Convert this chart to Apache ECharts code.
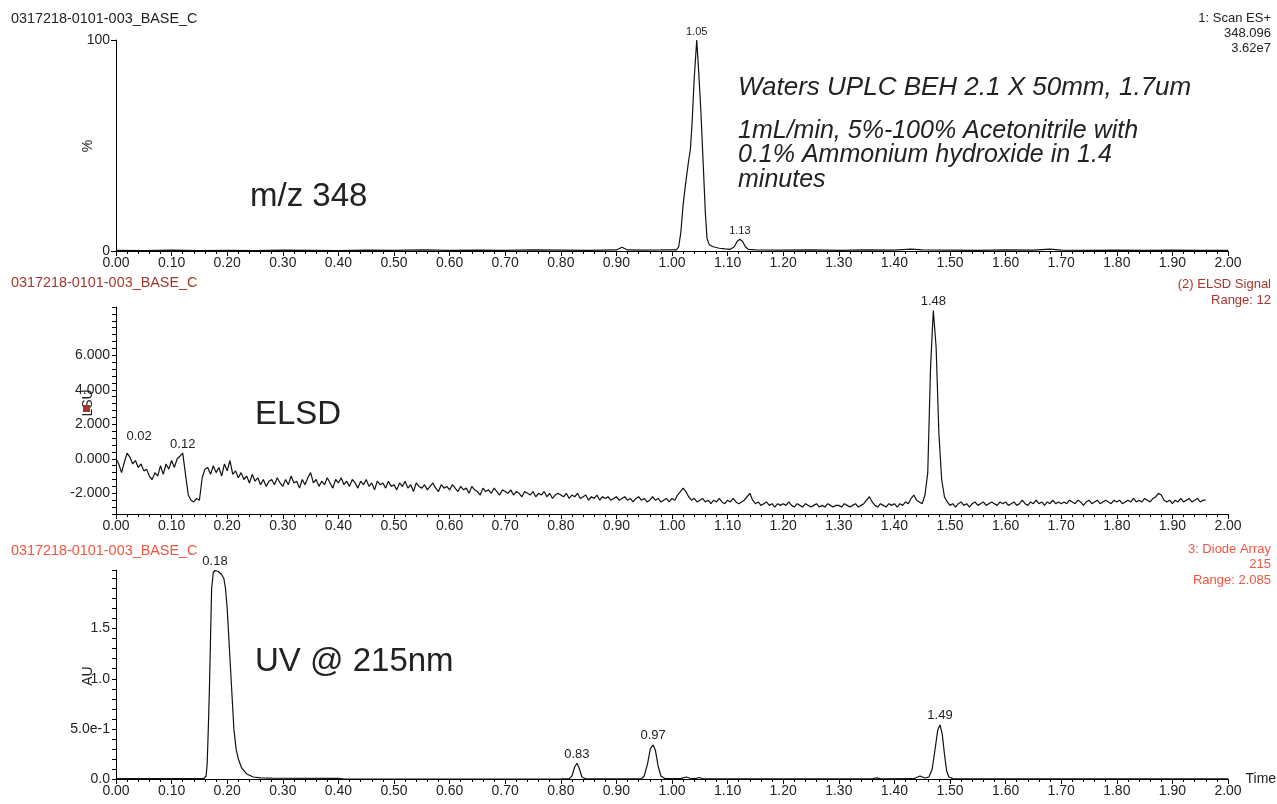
<!DOCTYPE html>
<html>
<head>
<meta charset="utf-8">
<title>UPLC chromatogram</title>
<script src="https://cdn.jsdelivr.net/npm/echarts@6.0.0/dist/echarts.min.js"></script>
<style>
  html, body { margin: 0; padding: 0; background: #fff; }
  #chart { width: 1277px; height: 804px; }
</style>
</head>
<body>
<div id="chart"></div>
<script>
// MS trace (m/z 348), [time min, %]
const msTrace = [
  [0, 0.3], [0.05, 0.2], [0.1, 0.4], [0.15, 0.2], [0.2, 0.3], [0.25, 0.2], [0.3, 0.4], [0.35, 0.3],
  [0.4, 0.2], [0.45, 0.4], [0.5, 0.3], [0.55, 0.5], [0.6, 0.3], [0.65, 0.4], [0.7, 0.3], [0.75, 0.5],
  [0.8, 0.4], [0.85, 0.3], [0.9, 0.5], [0.91, 1.8], [0.92, 0.5], [0.95, 0.4], [0.98, 0.5], [1.0, 0.6],
  [1.008, 0.5], [1.012, 2], [1.016, 9], [1.02, 22], [1.025, 33], [1.03, 43], [1.033, 48], [1.036, 60],
  [1.04, 82], [1.0445, 100], [1.048, 85], [1.052, 66], [1.056, 42], [1.06, 18], [1.063, 6], [1.067, 3],
  [1.074, 2], [1.085, 1.3], [1.095, 1], [1.105, 0.8], [1.112, 2], [1.117, 4.5], [1.122, 5.6], [1.127, 4.5],
  [1.132, 2], [1.137, 0.8], [1.15, 0.5], [1.2, 0.4], [1.25, 0.5], [1.3, 0.3], [1.35, 0.5], [1.4, 0.4],
  [1.43, 0.9], [1.45, 0.5], [1.5, 0.4], [1.55, 0.3], [1.6, 0.5], [1.65, 0.4], [1.68, 0.9], [1.7, 0.4],
  [1.75, 0.3], [1.8, 0.4], [1.85, 0.3], [1.9, 0.4], [1.95, 0.3], [2.0, 0.3]
]
const msPeaks = [[1.0445, 100, '1.05'], [1.122, 5.6, '1.13']]

// ELSD signal, sampled every 0.005 min from 0, in thousands
const elsdStart = 0
const elsdStep = 0.005
const elsdSignal = [
  0.0, -0.3, -0.8, -0.2, 0.33, 0.1, -0.3, -0.1, -0.5, -0.3, -0.7, -0.6, -1.0, -1.2, -0.8, -1.0, -0.4, -0.9, -0.3, -0.6,
  -0.1, -0.5, 0.0, 0.15, 0.33, -0.9, -2.1, -2.4, -2.5, -2.3, -2.4, -1.1, -0.6, -0.5, -0.9, -0.4, -0.8, -0.5, -1.0, -0.3,
  -0.7, -0.1, -0.9, -0.7, -1.1, -0.8, -1.2, -1.0, -1.4, -0.9, -1.3, -1.1, -1.5, -1.2, -1.6, -1.3, -1.2, -1.5, -1.1, -1.4,
  -1.6, -1.2, -1.5, -1.0, -1.4, -1.3, -1.7, -1.2, -1.5, -1.1, -0.8, -1.4, -1.2, -1.6, -1.3, -1.5, -1.1, -1.4, -1.7, -1.2,
  -1.4, -1.1, -1.5, -1.3, -1.6, -1.2, -1.4, -1.7, -1.3, -1.5, -1.2, -1.6, -1.4, -1.8, -1.3, -1.5, -1.4, -1.7, -1.3, -1.6,
  -1.5, -1.8, -1.4, -1.6, -1.3, -1.7, -1.5, -1.9, -1.4, -1.6, -1.7, -1.5, -1.8, -1.6, -1.4, -1.7, -1.9, -1.5, -1.7, -1.6,
  -1.8, -1.5, -1.7, -1.9, -1.6, -1.8, -1.7, -2.0, -1.6, -1.8, -1.9, -2.1, -1.7, -1.9, -1.8, -2.0, -1.7, -1.9, -2.1, -1.8,
  -1.9, -2.0, -1.8, -2.1, -1.9, -2.0, -2.2, -1.9, -2.0, -2.1, -1.9, -2.2, -2.0, -2.1, -1.9, -2.2, -2.0, -2.3, -2.1, -2.0,
  -2.1, -2.2, -2.0, -2.3, -2.1, -2.2, -2.0, -2.3, -2.2, -2.1, -2.4, -2.2, -2.3, -2.1, -2.4, -2.2, -2.3, -2.2, -2.4, -2.3,
  -2.2, -2.4, -2.3, -2.2, -2.4, -2.3, -2.5, -2.3, -2.2, -2.4, -2.3, -2.5, -2.4, -2.2, -2.4, -2.3, -2.5, -2.4, -2.3, -2.5,
  -2.3, -2.4, -2.1, -1.9, -1.7, -1.9, -2.2, -2.4, -2.3, -2.5, -2.4, -2.3, -2.5, -2.4, -2.6, -2.4, -2.5, -2.3, -2.5, -2.6,
  -2.4, -2.5, -2.3, -2.5, -2.6, -2.5, -2.4, -2.2, -2.0, -2.4, -2.6, -2.5, -2.7, -2.6, -2.5, -2.7, -2.6, -2.8, -2.6, -2.7,
  -2.6, -2.7, -2.5, -2.7, -2.8, -2.6, -2.7, -2.8, -2.6, -2.7, -2.8, -2.7, -2.6, -2.8, -2.7, -2.8, -2.6, -2.7, -2.8, -2.7,
  -2.7, -2.8, -2.6, -2.7, -2.8, -2.7, -2.6, -2.8, -2.7, -2.6, -2.4, -2.2, -2.5, -2.7, -2.8, -2.6, -2.7, -2.8, -2.6, -2.7,
  -2.6, -2.8, -2.6, -2.7, -2.5, -2.6, -2.3, -2.1, -2.4, -2.5, -2.6, -2.1, -0.8, 5.3, 8.6, 6.5, 1.5, -1.2, -2.2, -2.5,
  -2.7, -2.6, -2.8, -2.6, -2.5, -2.7, -2.6, -2.8, -2.6, -2.5, -2.7, -2.6, -2.5, -2.7, -2.6, -2.5, -2.6, -2.7, -2.5, -2.6,
  -2.5, -2.7, -2.6, -2.5, -2.7, -2.6, -2.4, -2.6, -2.7, -2.5, -2.6, -2.4, -2.6, -2.5, -2.7, -2.5, -2.6, -2.4, -2.6, -2.5,
  -2.6, -2.5, -2.6, -2.4, -2.5, -2.6, -2.4, -2.5, -2.7, -2.5, -2.4, -2.6, -2.5, -2.4, -2.6, -2.5, -2.4, -2.5, -2.6, -2.4,
  -2.5, -2.4, -2.6, -2.5, -2.4, -2.5, -2.3, -2.5, -2.4, -2.5, -2.3, -2.4, -2.5, -2.3, -2.2, -2.0, -2.1, -2.4, -2.5, -2.4,
  -2.6, -2.4, -2.5, -2.3, -2.5, -2.4, -2.3, -2.5, -2.4, -2.3, -2.5, -2.4, -2.4
]
const elsdPeaks = [[0.02, 0.33, '0.02'], [0.12, 0.33, '0.12'], [1.47, 8.6, '1.48']]
const elsdLabelValues = [-2, 0, 2, 4, 6]

// UV 215 nm trace, [time min, AU]
const uvTrace = [
  [0, 0.004], [0.1, 0.005], [0.158, 0.005], [0.162, 0.03], [0.164, 0.15], [0.166, 0.5], [0.168, 0.9],
  [0.17, 1.4], [0.172, 1.9], [0.175, 2.06], [0.178, 2.08], [0.184, 2.07], [0.19, 2.04], [0.194, 2.0],
  [0.197, 1.9], [0.2, 1.7], [0.202, 1.5], [0.205, 1.2], [0.207, 1.0], [0.21, 0.7], [0.212, 0.5],
  [0.216, 0.3], [0.22, 0.2], [0.226, 0.11], [0.235, 0.05], [0.247, 0.02], [0.26, 0.012], [0.28, 0.008],
  [0.4, 0.006], [0.41, 0.0], [0.6, 0.0], [0.8, 0.001], [0.815, 0.002], [0.82, 0.03], [0.825, 0.12],
  [0.829, 0.157], [0.833, 0.11], [0.838, 0.02], [0.845, 0.002], [0.945, 0.002], [0.95, 0.03], [0.956, 0.15],
  [0.961, 0.3], [0.966, 0.34], [0.97, 0.29], [0.975, 0.13], [0.98, 0.03], [0.988, 0.003], [1.015, 0.003],
  [1.026, 0.02], [1.035, 0.003], [1.042, 0.004], [1.049, 0.015], [1.056, 0.002], [1.2, 0.002], [1.36, 0.002],
  [1.368, 0.012], [1.376, 0.002], [1.435, 0.003], [1.446, 0.03], [1.455, 0.01], [1.462, 0.02], [1.468, 0.1],
  [1.474, 0.33], [1.478, 0.49], [1.482, 0.54], [1.486, 0.45], [1.49, 0.25], [1.494, 0.08], [1.498, 0.02],
  [1.505, 0.004], [1.6, 0.002], [2.0, 0.002]
]
const uvPeaks = [[0.178, 2.08, '0.18'], [0.829, 0.157, '0.83'], [0.966, 0.34, '0.97'], [1.482, 0.54, '1.49']]
const uvLabelText = [[0, '0.0'], [0.5, '5.0e-1'], [1, '1.0'], [1.5, '1.5']]

const FONT = '"Liberation Sans", Arial, sans-serif'
const RED_DARK = '#a3362c'
const RED_LIGHT = '#f2553f'

const elsdTrace = elsdSignal.map((v, i) => [elsdStart + i * elsdStep, v])

function peakMarks(peaks, size) {
  return {
    symbol: 'circle',
    symbolSize: 1,
    itemStyle: { color: 'rgba(0,0,0,0)' },
    label: { show: true, position: 'top', distance: 2, fontSize: size, color: '#222', fontFamily: FONT },
    data: peaks.map(p => {
      const item = { coord: [p[0], p[1]], value: p[2] }
      if (p[2] === '0.02') item.label = { offset: [12, -8] } // 0.02 标签向右上偏移
      return item
    }),
  }
}

function timeAxis(gridIndex, extra) {
  return Object.assign({
    type: 'value',
    gridIndex: gridIndex,
    min: 0,
    max: 2,
    interval: 0.1,
    axisLine: { show: true, onZero: false, lineStyle: { color: '#000', width: 1 } },
    axisTick: { show: true, length: 5, lineStyle: { color: '#000' } },
    minorTick: { show: true, splitNumber: 5, length: 3, lineStyle: { color: '#000' } },
    splitLine: { show: false },
    minorSplitLine: { show: false },
    axisLabel: { margin: 5, fontSize: 14, color: '#222', fontFamily: FONT, formatter: v => v.toFixed(2) },
  }, extra || {})
}

const yBase = {
  type: 'value',
  axisLine: { show: true, lineStyle: { color: '#000', width: 1 } },
  axisTick: { show: true, length: 4, lineStyle: { color: '#000' } },
  splitLine: { show: false },
}

function text(x, y, str, opts) {
  opts = opts || {}
  return {
    type: 'text',
    x: x,
    y: y,
    rotation: opts.rotation || 0,
    silent: true,
    style: {
      text: str,
      fill: opts.color || '#222',
      font: (opts.font || '14px') + ' ' + FONT,
      align: opts.align || 'left',
      verticalAlign: 'middle',
    },
  }
}

const chart = echarts.init(document.getElementById('chart'), null, { renderer: 'canvas' })

const option = {
  animation: false,
  backgroundColor: '#fff',
  grid: [
    { left: 116, width: 1112, top: 40, height: 211, outerBoundsMode: 'none' },
    { left: 116, width: 1112, top: 307, height: 207, outerBoundsMode: 'none' },
    { left: 116, width: 1112, top: 570, height: 209, outerBoundsMode: 'none' },
  ],
  xAxis: [
    timeAxis(0),
    timeAxis(1),
    timeAxis(2, {
      name: 'Time',
      nameLocation: 'end',
      nameGap: 10,
      nameTextStyle: { fontSize: 14, color: '#222', fontFamily: FONT },
    }),
  ],
  yAxis: [
    Object.assign({}, yBase, {
      gridIndex: 0, min: 0, max: 100, interval: 100,
      axisTick: { show: true, length: 5, lineStyle: { color: '#000' } },
      axisLabel: { margin: 6, fontSize: 14, color: '#222', fontFamily: FONT },
    }),
    Object.assign({}, yBase, {
      gridIndex: 1, min: -3.2, max: 8.8, interval: 0.4,
      axisLabel: {
        margin: 6, fontSize: 14, color: '#222', fontFamily: FONT,
        formatter: v => elsdLabelValues.some(s => Math.abs(s - v) < 1e-6) ? v.toFixed(3) : '',
      },
    }),
    Object.assign({}, yBase, {
      gridIndex: 2, min: 0, max: 2.085, interval: 0.1,
      axisLabel: {
        margin: 6, fontSize: 14, color: '#222', fontFamily: FONT,
        formatter: v => {
          const hit = uvLabelText.find(s => Math.abs(s[0] - v) < 1e-6)
          return hit ? hit[1] : ''
        },
      },
    }),
  ],
  series: [
    {
      type: 'line', xAxisIndex: 0, yAxisIndex: 0, data: msTrace,
      showSymbol: false, silent: true,
      lineStyle: { color: '#111', width: 1.2 },
      markPoint: peakMarks(msPeaks, 11),
    },
    {
      type: 'line', xAxisIndex: 1, yAxisIndex: 1, data: elsdTrace,
      showSymbol: false, silent: true,
      lineStyle: { color: '#111', width: 1.2 },
      markPoint: peakMarks(elsdPeaks, 13),
    },
    {
      type: 'line', xAxisIndex: 2, yAxisIndex: 2, data: uvTrace,
      showSymbol: false, silent: true,
      lineStyle: { color: '#111', width: 1.2 },
      markPoint: peakMarks(uvPeaks, 13),
    },
  ],
  graphic: [
    // panel 1
    text(11, 19, '0317218-0101-003_BASE_C', { font: '14.4px' }),
    text(1271, 18, '1: Scan ES+', { align: 'right', font: '13px' }),
    text(1271, 33, '348.096', { align: 'right', font: '13px' }),
    text(1271, 48, '3.62e7', { align: 'right', font: '13px' }),
    text(88, 146, '%', { rotation: Math.PI / 2, align: 'center' }),
    text(250, 197, 'm/z 348', { font: '33px' }),
    text(738, 88, 'Waters UPLC BEH 2.1 X 50mm, 1.7um', { font: 'italic 26px' }),
    text(738, 131, '1mL/min, 5%-100% Acetonitrile with', { font: 'italic 25px' }),
    text(738, 155, '0.1% Ammonium hydroxide in 1.4', { font: 'italic 25px' }),
    text(738, 180, 'minutes', { font: 'italic 25px' }),
    // panel 2
    text(11, 283, '0317218-0101-003_BASE_C', { color: RED_DARK, font: '14.4px' }),
    text(1271, 284, '(2) ELSD Signal', { align: 'right', color: RED_DARK, font: '13px' }),
    text(1271, 300, 'Range: 12', { align: 'right', color: RED_DARK, font: '13px' }),
    text(88, 403, 'LSU', { rotation: Math.PI / 2, align: 'center' }),
    { type: 'rect', silent: true, shape: { x: 83, y: 405, width: 7, height: 7 }, style: { fill: RED_DARK } },
    text(255, 415, 'ELSD', { font: '33px' }),
    // panel 3
    text(11, 551, '0317218-0101-003_BASE_C', { color: RED_LIGHT, font: '14.4px' }),
    text(1271, 549, '3: Diode Array', { align: 'right', color: RED_LIGHT, font: '13px' }),
    text(1271, 564, '215', { align: 'right', color: RED_LIGHT, font: '13px' }),
    text(1271, 580, 'Range: 2.085', { align: 'right', color: RED_LIGHT, font: '13px' }),
    text(88, 676, 'AU', { rotation: Math.PI / 2, align: 'center' }),
    text(255, 662, 'UV @ 215nm', { font: '33px' }),
  ],
}

chart.setOption(option)
</script>
</body>
</html>
